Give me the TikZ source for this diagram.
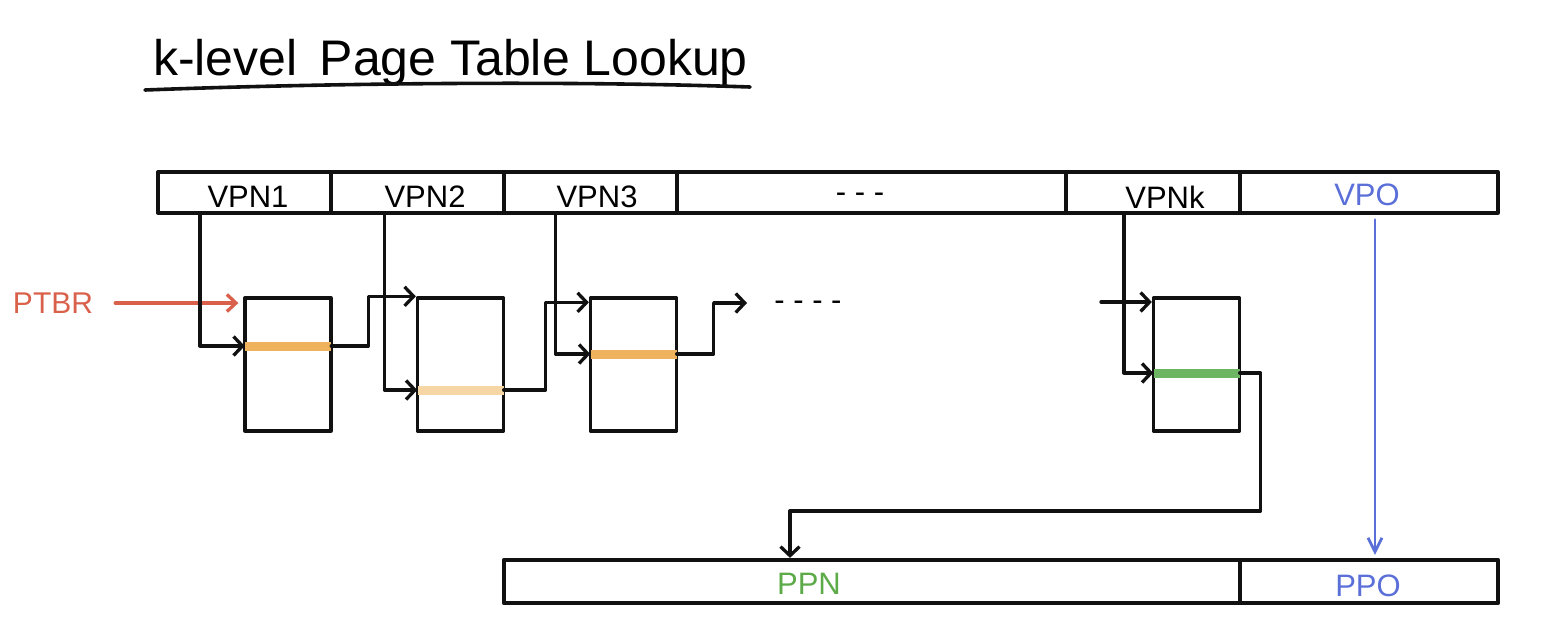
\documentclass[tikz,border=0pt]{standalone}
\usepackage{fontspec}
\setmainfont{Liberation Sans}
\usetikzlibrary{arrows.meta}
\definecolor{ink}{HTML}{111111}
\definecolor{ptbrred}{HTML}{D9604A}
\definecolor{hlorange}{HTML}{EEB35C}
\definecolor{hllight}{HTML}{F6D6A4}
\definecolor{hlgreen}{HTML}{6DB562}
\definecolor{txtgreen}{HTML}{5DAA48}
\definecolor{vblue}{HTML}{5B6FD9}
\begin{document}
\begin{tikzpicture}[x=1pt,y=-1pt, line cap=round, line join=round,
  cell/.style={draw=ink, line width=3.3pt, minimum width=#1, minimum height=41pt, inner sep=0pt},
  bcell/.style={draw=ink, line width=4.2pt, minimum width=#1, minimum height=43pt, inner sep=0pt},
  tablebox/.style={draw=ink, line width=3.3pt, minimum width=86pt, minimum height=133pt, inner sep=0pt},
  entry/.style={fill=#1, draw=none, minimum width=86pt, minimum height=9pt, inner sep=0pt},
  lab/.style={font=\fontsize{31}{31}\selectfont, inner sep=0pt},
  arr/.style={draw=ink, line width=3.3pt, -{Straight Barb[length=9pt,width=19pt,line width=3.3pt]}},
  redarr/.style={draw=ptbrred, line width=3.3pt, -{Straight Barb[length=9pt,width=17pt,line width=3.3pt]}},
  bluearr/.style={draw=vblue, line width=2.8pt, -{Straight Barb[length=14pt,width=14pt,line width=2.8pt]}}]
\useasboundingbox (0,0) rectangle (1561,638);

% title
\node[font=\fontsize{50}{50}\selectfont, inner sep=0pt, anchor=base west] (title) at (153,75) {k-level\hspace{22pt}Page Table Lookup};
\draw[ink, line width=3.6pt] ([xshift=-8pt,yshift=-15pt]title.base west) .. controls ([xshift=150pt,yshift=-9pt]title.base west) and ([xshift=-200pt,yshift=-5pt]title.base east) .. ([xshift=2pt,yshift=-12pt]title.base east);

% top bar
\node[cell=173pt] (c1) at (244.5,192.5) {};
\node[cell=173pt] (c2) at (417.5,192.5) {};
\node[cell=173pt] (c3) at (590.5,192.5) {};
\node[cell=389pt] (cd) at (871.5,192.5) {};
\node[cell=174pt] (ck) at (1153,192.5) {};
\node[cell=258pt] (cvpo) at (1369,192.5) {};
\node[lab] (l1) at (248,197) {VPN1};
\node[lab] (l2) at (425,197) {VPN2};
\node[lab] (l3) at (597,197) {VPN3};
\node[lab] (ld) at (860,198) {- - -};
\node[lab] (lk) at (1165,197) {VPNk};
\node[lab, text=vblue] (lvpo) at (1367,195) {VPO};

% tables
\node[tablebox] (t1) at (288,364.5) {};
\node[tablebox] (t2) at (460.5,364.5) {};
\node[tablebox] (t3) at (633.5,364.5) {};
\node[tablebox] (tk) at (1196.5,364.5) {};
\node[entry=hlorange] (h1) at (288,346) {};
\node[entry=hllight] (h2) at (460.5,390) {};
\node[entry=hlorange] (h3) at (633.5,354) {};
\node[entry=hlgreen] (hk) at (1196.5,373) {};

% PTBR
\node[lab, font=\fontsize{30}{30}\selectfont, text=ptbrred] (ptbr) at (53,303) {PTBR};
\draw[redarr, shorten >=5pt] ([xshift=22pt]ptbr.east) -- (ptbr.east -| t1.west);

% index arrows
\draw[arr] ([xshift=-44.5pt]c1.south) |- (h1.west);
\draw[arr] ([xshift=-33pt]c2.south) |- (h2.west);
\draw[arr] ([xshift=-35pt]c3.south) |- (h3.west);
\draw[arr] ([xshift=-29pt]ck.south) |- (hk.west);

% next-level arrows
\draw[arr] (h1.east) -- ++(37,0) |- (t2.north west);
\draw[arr] (h2.east) -- ++(42,0) |- ([yshift=-6pt]t3.north west);
\coordinate (nx) at (747,303);
\draw[arr] (h3.east) -- ++(37,0) |- (nx);
\node[lab] (more) at (808,306) {- - - -};
\coordinate (kin) at (1101,302);
\draw[arr] (kin) -- (kin -| tk.west);

% bottom bar
\node[bcell=736pt] (ppn) at (872,581.5) {};
\node[bcell=258pt] (ppo) at (1369,581.5) {};
\node[lab, text=txtgreen] (lppn) at (809,584) {PPN};
\node[lab, text=vblue] (lppo) at (1368,586) {PPO};

\draw[arr] (hk.east) -- ++(21,0) |- ([xshift=-82pt,yshift=47pt]ppn.north) -- ([xshift=-82pt]ppn.north);
\draw[bluearr, shorten <=5pt] ([xshift=6pt]cvpo.south) -- ([xshift=6pt,yshift=3pt]ppo.north);
\end{tikzpicture}
\end{document}
